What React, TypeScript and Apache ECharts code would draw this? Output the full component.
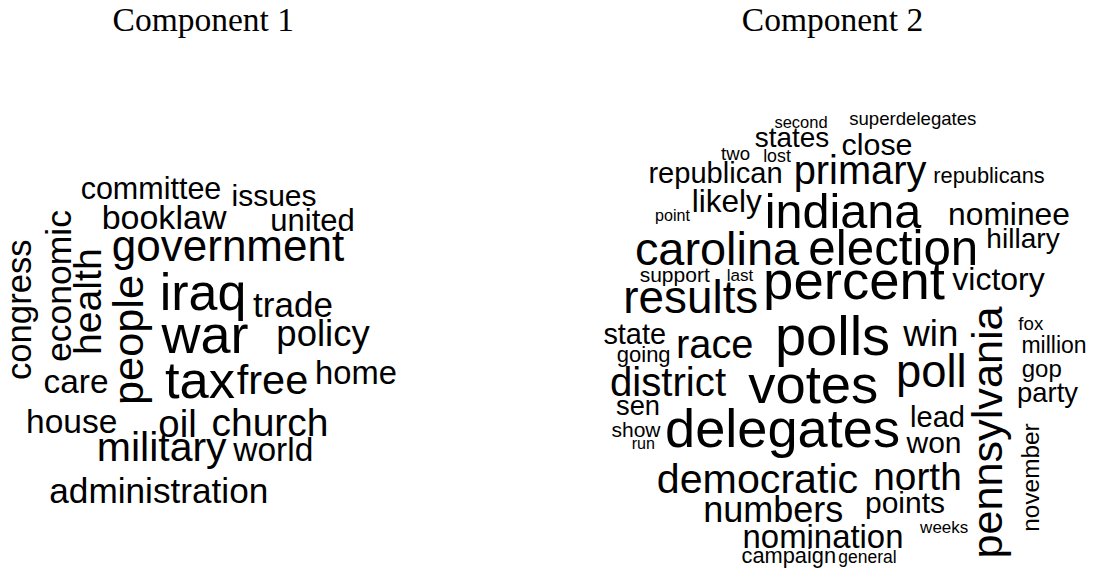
import React, { useEffect, useRef } from "react";
import * as echarts from "echarts";

// ---- Panel titles ----
const panelTitles = ["Component 1", "Component 2"];

// ---- Component 1 word cloud ----
const words1 = ["committee", "issues", "book", "law", "united", "government", "iraq", "trade", "war", "policy", "tax", "free", "home", "care", "house", "oil", "church", "military", "world", "administration", "congress", "economic", "health", "people"];
const weight1 = [30.5, 30, 34, 34, 31, 44, 52, 35, 54, 36.5, 52.5, 41.5, 32.7, 33.4, 33.5, 38.3, 39, 41, 33.5, 35.2, 34.7, 35.5, 39.2, 43.3];
const layoutX1 = [151, 274, 138.5, 201, 312.5, 228, 203, 293, 205, 323, 200, 272.5, 356, 76, 71.7, 177.5, 270, 161.7, 273.3, 158.8, 31, 71.7, 101.5, 143];
const layoutY1 = [199, 206, 229, 229, 231.5, 261, 310, 316.5, 353, 346.5, 398, 394, 384, 393, 433, 436.5, 436.5, 461.5, 461.5, 503, 309.7, 286, 301.7, 340];
const vertical1 = [0, 0, 0, 0, 0, 0, 0, 0, 0, 0, 0, 0, 0, 0, 0, 0, 0, 0, 0, 0, 1, 1, 1, 1];

// ---- Component 2 word cloud ----
const words2 = ["second", "superdelegates", "states", "close", "two", "lost", "republican", "primary", "republicans", "point", "likely", "indiana", "nominee", "hillary", "carolina", "election", "support", "last", "percent", "victory", "results", "state", "race", "polls", "win", "going", "district", "votes", "poll", "sen", "lead", "show", "run", "delegates", "won", "democratic", "north", "numbers", "points", "weeks", "nomination", "campaign", "general", "fox", "million", "gop", "party", "pennsylvania", "november"];
const weight2 = [16.5, 18.6, 27.9, 30.4, 18.6, 17.8, 29.1, 39.8, 21.8, 16.1, 31.5, 48.6, 31.8, 28.1, 46.9, 49.3, 21, 17.1, 54.5, 32, 45.8, 28.9, 39.8, 56, 36.7, 22, 40.2, 54.4, 45.4, 27.3, 29.1, 21, 16.1, 54.2, 30, 41.2, 38.8, 36, 30, 17, 32.9, 21.8, 17.5, 18.7, 23, 24, 27.4, 43.2, 24.4];
const layoutX2 = [801, 912.8, 792, 877, 735.5, 777, 715.5, 860, 989, 672.5, 726.7, 843, 1009, 1023, 717, 893.3, 674.7, 740, 854, 998.5, 690.8, 634.7, 714.7, 832.5, 930.8, 643.7, 668, 813.3, 931.3, 638, 937.5, 636, 643.3, 782.5, 934, 757.5, 917.5, 773.3, 905, 944.2, 823, 788.8, 867.5, 1030.8, 1054, 1041.7, 1047.5, 1002, 1039.2];
const layoutY2 = [127.7, 125, 147.7, 154.3, 160, 162.7, 183.3, 184, 183.3, 220.7, 211.7, 228.3, 225, 248, 265, 265, 281.7, 281, 300, 290, 313.3, 344, 358.3, 355, 346.7, 361.7, 396.7, 403.3, 387.3, 415, 427.3, 436.7, 448.3, 446.7, 453.3, 493.3, 490, 521.7, 513.3, 533.3, 548.3, 563.3, 563.3, 330, 353.3, 377, 401.7, 432.5, 477.5];
const vertical2 = [0, 0, 0, 0, 0, 0, 0, 0, 0, 0, 0, 0, 0, 0, 0, 0, 0, 0, 0, 0, 0, 0, 0, 0, 0, 0, 0, 0, 0, 0, 0, 0, 0, 0, 0, 0, 0, 0, 0, 0, 0, 0, 0, 0, 0, 0, 0, 1, 1];

const WIDTH = 1100;
const HEIGHT = 576;
const WORD_FONT = "'Liberation Sans', Arial, Helvetica, sans-serif";
const TITLE_FONT = "'Liberation Serif', 'Times New Roman', serif";
const CENTRAL = 0.35; // central baseline offset (em) above alphabetic baseline

function cloudSeries(words: string[], weights: number[], xs: number[], ys: number[], vert: number[]) {
  return {
    type: "custom",
    coordinateSystem: "cartesian2d",
    silent: true,
    data: xs.map((x, i) => [x, ys[i], weights[i]]),
    renderItem: (params: any, api: any) => {
      const i = params.dataIndex;
      const p = api.coord([api.value(0), api.value(1)]);
      const fs = api.value(2) as number;
      const off = CENTRAL * fs;
      const v = vert[i] === 1;
      return {
        type: "text",
        x: v ? p[0] - off : p[0],
        y: v ? p[1] : p[1] - off,
        rotation: v ? Math.PI / 2 : 0,
        style: {
          text: words[i],
          fontSize: fs,
          fontFamily: WORD_FONT,
          fill: "#000000",
          align: "center",
          verticalAlign: "middle",
        },
      };
    },
  };
}

export default function App() {
  const ref = useRef<HTMLDivElement>(null);

  useEffect(() => {
    if (!ref.current) return;
    const chart = echarts.init(ref.current, null, { renderer: "svg" });
    const titleSize = 33.5;
    const titleBaseline = 31;
    const titleCenters = [203.3, 832.5];
    chart.setOption({
      animation: false,
      backgroundColor: "#ffffff",
      grid: { left: 0, right: 0, top: 0, bottom: 0 },
      xAxis: { type: "value", min: 0, max: WIDTH, show: false },
      yAxis: { type: "value", min: 0, max: HEIGHT, inverse: true, show: false },
      graphic: panelTitles.map((t, i) => ({
        type: "text",
        x: titleCenters[i],
        y: titleBaseline - 0.3375 * titleSize,
        style: {
          text: t,
          fontSize: titleSize,
          fontFamily: TITLE_FONT,
          fill: "#000000",
          align: "center",
          verticalAlign: "middle",
        },
      })),
      series: [
        cloudSeries(words1, weight1, layoutX1, layoutY1, vertical1),
        cloudSeries(words2, weight2, layoutX2, layoutY2, vertical2),
      ],
    });
    return () => chart.dispose();
  }, []);

  return (
    <div
      ref={ref}
      style={{ position: "absolute", left: 0, top: 0, width: WIDTH, height: HEIGHT, background: "#fff" }}
    />
  );
}
